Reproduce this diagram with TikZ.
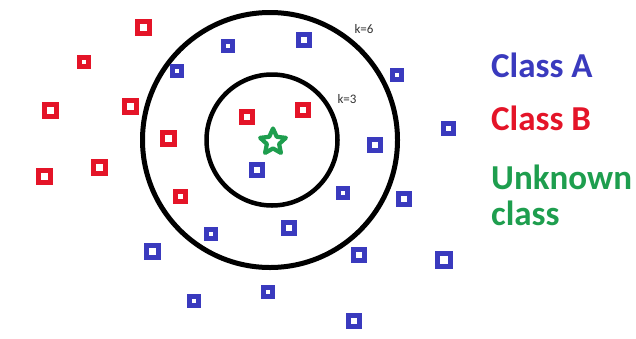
\documentclass[tikz,border=0pt]{standalone}
\usepackage{fontspec}
\setmainfont{Carlito}
\usetikzlibrary{shapes.geometric}
\definecolor{clsA}{RGB}{58,58,190}
\definecolor{clsB}{RGB}{228,20,40}
\definecolor{clsU}{RGB}{30,158,78}
\tikzset{
  pt/.style={draw, fill=white, line width=5pt, inner sep=0pt, outer sep=0pt, minimum size={(#1+5)*1pt}},
  ptA/.style={pt=#1, draw=clsA},
  ptB/.style={pt=#1, draw=clsB},
  ring/.style={draw=black, circle, inner sep=0pt},
  klabel/.style={font=\fontsize{13}{14}\selectfont, text=black!80},
  legend/.style={anchor=west, font=\bfseries\fontsize{35}{36}\selectfont, inner sep=0pt, align=left}
}
\begin{document}
\begin{tikzpicture}[x=1pt,y=-1pt]
\useasboundingbox[fill=white] (0,0) rectangle (636,338);
% circles
\node[ring, line width=5pt, minimum size=255] (outer) at (270,140) {};
\node[ring, line width=4.5pt, minimum size=131] (inner) at (272,140) {};
\node[klabel] (k6) at (364,29) {k=6};
\node[klabel] (k3) at (347,99) {k=3};
% class B (red)
\foreach \x/\y/\s [count=\i] in {143/27/7, 84/62/4, 50/110/7, 130/106/7, 168/138/7, 44/176/7, 99/167/7, 180/196/5, 247/117/6, 303/110/6}
  \node[ptB=\s] (b\i) at (\x,\y) {};
% class A (blue)
\foreach \x/\y/\s [count=\i] in {177/71/4, 228/46/4, 304/40/6, 397/75/4, 448/128/5, 375/145/6, 257/170/6, 343/193/4, 404/199/6, 211/234/4, 289/228/6, 152/251/7, 359/255/6, 444/260/8, 268/292/4, 194/301/4, 354/321/6}
  \node[ptA=\s] (a\i) at (\x,\y) {};
% unknown
\node[star, star points=5, star point ratio=2.1, minimum size=27, draw=clsU, fill=white, line width=4.2pt, line join=round, inner sep=0pt] (u) at (273,142) {};
% legend
\node[legend, text=clsA] (la) at (491,65) {Class A};
\node[legend, text=clsB] (lb) at (491,118) {Class B};
\node[legend, text=clsU, anchor=north west] (lu) at (491,165) {Unknown\\class};
\end{tikzpicture}
\end{document}
